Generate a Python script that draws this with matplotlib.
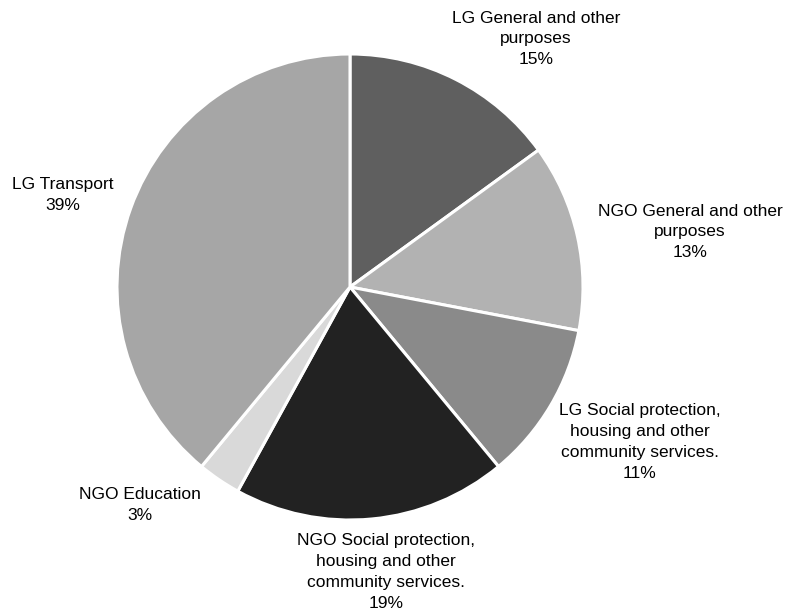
import matplotlib
matplotlib.use("Agg")
import matplotlib.pyplot as plt

plt.rcParams['font.family'] = ['Liberation Sans', 'DejaVu Sans']

categories = ["LG General and other\npurposes",
              "NGO General and other\npurposes",
              "LG Social protection,\nhousing and other\ncommunity services.",
              "NGO Social protection,\nhousing and other\ncommunity services.",
              "NGO Education",
              "LG Transport"]
values = [15, 13, 11, 19, 3, 39]
colors = ["#5f5f5f", "#b2b2b2", "#8a8a8a", "#222222", "#d9d9d9", "#a6a6a6"]

W, H = 789, 613
cx, cy, R = 350, 287, 233
fig = plt.figure(figsize=(W / 100, H / 100), dpi=100)
ax = fig.add_axes([0, 0, 1, 1])
ax.pie(values, colors=colors, startangle=90, counterclock=False,
       radius=1.0, wedgeprops=dict(edgecolor="white", linewidth=2.2))
ax.set_xlim(-cx / R, (W - cx) / R)
ax.set_ylim((cy - H) / R, cy / R)
ax.set_aspect("equal")
ax.axis("off")

# label positions in pixel coordinates (text centres)
label_px = [(536, 39), (690, 232), (640, 442), (386, 572), (140, 505), (63, 195)]
for cat, v, (px, py) in zip(categories, values, label_px):
    ax.text((px - cx) / R, (cy - py) / R, f"{cat}\n{v}%", ha="center", va="center",
            fontsize=12.5, linespacing=1.48, color="#000000")

fig.savefig("out.png", dpi=100)
